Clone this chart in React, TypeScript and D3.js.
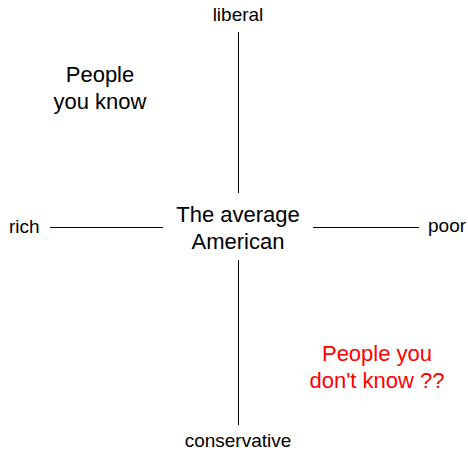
import React from "react";
import * as d3 from "d3";

const W = 468;
const H = 450;

// Axis poles
const axisLabels = ["liberal", "conservative", "rich", "poor"];
const axisLabelPos: [number, number][] = [
  [0, 1],
  [0, -1],
  [-1, 0],
  [1, 0],
];

// Axis line segments in unit coordinates [x1, y1, x2, y2]
const axisSegments: [number, number, number, number][] = [
  [0, 0.2, 0, 0.9],
  [0, -0.2, 0, -0.9],
  [-0.2, 0, -0.9, 0],
  [0.2, 0, 0.9, 0],
];

// Annotations
const notes = [
  { lines: ["The average", "American"], pos: [0, 0], red: false },
  { lines: ["People", "you know"], pos: [-0.7, 0.6], red: false },
  { lines: ["People you", "don't know ??"], pos: [0.7, -0.6], red: true },
];

export default function App() {
  const cx = 238;
  const cy = 227;
  const xs = d3
    .scaleLinear()
    .domain([-0.9, -0.2, 0.2, 0.9])
    .range([50, 163, 313, 419]);
  const ys = d3
    .scaleLinear()
    .domain([-0.9, -0.2, 0.2, 0.9])
    .range([425, 260, 193, 32]);

  const font = "'Liberation Sans', Arial, sans-serif";

  const labelPlace = (i: number) => {
    const [px, py] = axisLabelPos[i];
    if (px === 0 && py === 1) return { x: cx, y: 21, anchor: "middle" };
    if (px === 0 && py === -1) return { x: cx, y: 447, anchor: "middle" };
    if (px === -1) return { x: 9, y: 233, anchor: "start" };
    return { x: 428, y: 232, anchor: "start" };
  };

  const notePlace = (p: number[]) => {
    if (p[0] === 0) return { x: cx, y: 222 };
    if (p[0] < 0) return { x: 100, y: 82 };
    return { x: 377, y: 361 };
  };

  return (
    <svg
      width={W}
      height={H}
      style={{ position: "absolute", left: 0, top: 0, background: "#fff" }}
      fontFamily={font}
    >
      {axisSegments.map((s, i) => (
        <line
          key={i}
          x1={s[0] === 0 ? cx + 0.5 : xs(s[0])}
          x2={s[2] === 0 ? cx + 0.5 : xs(s[2])}
          y1={s[1] === 0 ? cy + 0.5 : ys(s[1])}
          y2={s[3] === 0 ? cy + 0.5 : ys(s[3])}
          stroke="#000"
          strokeWidth={1}
        />
      ))}
      {axisLabels.map((t, i) => {
        const p = labelPlace(i);
        return (
          <text
            key={t}
            x={p.x}
            y={p.y}
            textAnchor={p.anchor as any}
            fontSize={19}
            fill="#000"
          >
            {t}
          </text>
        );
      })}
      {notes.map((n, i) => {
        const p = notePlace(n.pos);
        return (
          <text
            key={i}
            x={p.x}
            y={p.y}
            textAnchor="middle"
            fontSize={22}
            fill={n.red ? "#ff0000" : "#000"}
          >
            {n.lines.map((l, j) => (
              <tspan key={j} x={p.x} dy={j === 0 ? 0 : 27}>
                {l}
              </tspan>
            ))}
          </text>
        );
      })}
    </svg>
  );
}
